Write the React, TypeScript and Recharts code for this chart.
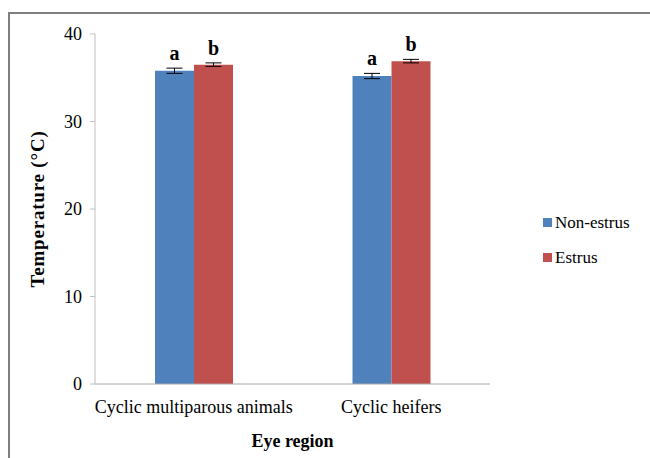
import { BarChart, Bar, XAxis, YAxis, ErrorBar, LabelList } from "recharts";

const categories = ["Cyclic multiparous animals", "Cyclic heifers"];
const nonEstrus = [35.8, 35.2];
const nonEstrusErr = [0.3, 0.3];
const estrus = [36.5, 36.9];
const estrusErr = [0.2, 0.2];
const nonEstrusSig = ["a", "a"];
const estrusSig = ["b", "b"];
const yTicks = [0, 10, 20, 30, 40];
const series = [
  { key: "nonEstrus", name: "Non-estrus", color: "#4f81bd" },
  { key: "estrus", name: "Estrus", color: "#c0504d" },
];

const data = categories.map((name, i) => ({
  name,
  nonEstrus: nonEstrus[i],
  nonEstrusErr: nonEstrusErr[i],
  nonEstrusSig: nonEstrusSig[i],
  estrus: estrus[i],
  estrusErr: estrusErr[i],
  estrusSig: estrusSig[i],
}));

const font = "'Liberation Serif', 'Times New Roman', serif";

const sigLabel = (errKey: string) => (props: any) => {
  const { x, y, width, value, index } = props;
  const err = (data[index] as any)[errKey];
  // push letter above the error bar (8.75 px per unit)
  const top = y - err * 8.75 - 8;
  return (
    <text
      x={x + width / 2}
      y={top}
      textAnchor="middle"
      style={{ fontFamily: font }}
      fontWeight="bold"
      fontSize={20}
      fill="#000"
    >
      {value}
    </text>
  );
};

export default function App() {
  return (
    <div
      style={{
        position: "absolute",
        left: 0,
        top: 0,
        width: 650,
        height: 458,
        background: "#fff",
        overflow: "hidden",
        fontFamily: font,
      }}
    >
      <div
        style={{
          position: "absolute",
          left: 8,
          top: 12,
          width: 660,
          height: 460,
          borderTop: "2px solid #7f7f7f",
          borderLeft: "2px solid #7f7f7f",
        }}
      />
      <div style={{ position: "absolute", left: 0, top: 0 }}>
        <BarChart
          width={650}
          height={458}
          data={data}
          margin={{ top: 34, right: 160, bottom: 44, left: 35 }}
          barGap={0}
          barSize={39}
          style={{ fontFamily: font }}
        >
          <XAxis
            dataKey="name"
            interval={0}
            height={30}
            axisLine={{ stroke: "#a6a6a6" }}
            tickLine={false}
            tick={{ fontSize: 18, fill: "#000", style: { fontFamily: font } }}
            tickMargin={10}
            label={{
              value: "Eye region",
              position: "insideBottom",
              offset: -33,
              style: { fontFamily: font, fontSize: 18, fontWeight: "bold", fill: "#000" },
            }}
          />
          <YAxis
            domain={[0, 40]}
            ticks={yTicks}
            width={60}
            axisLine={{ stroke: "#bfbfbf" }}
            tickLine={{ stroke: "#bfbfbf" }}
            tickSize={5}
            tick={{ fontSize: 18, fill: "#000", style: { fontFamily: font } }}
            tickMargin={8}
            label={{
              value: "Temperature (°C)",
              angle: -90,
              position: "insideLeft",
              offset: 2,
              style: {
                textAnchor: "middle",
                fontFamily: font,
                fontSize: 19,
                letterSpacing: 0.8,
                fontWeight: "bold",
                fill: "#000",
              },
            }}
          />
          <Bar dataKey="nonEstrus" name="Non-estrus" fill="#4f81bd" isAnimationActive={false}>
            <ErrorBar dataKey="nonEstrusErr" width={8} stroke="#000" strokeWidth={1} />
            <LabelList dataKey="nonEstrusSig" content={sigLabel("nonEstrusErr")} />
          </Bar>
          <Bar dataKey="estrus" name="Estrus" fill="#c0504d" isAnimationActive={false}>
            <ErrorBar dataKey="estrusErr" width={8} stroke="#000" strokeWidth={1} />
            <LabelList dataKey="estrusSig" content={sigLabel("estrusErr")} />
          </Bar>
        </BarChart>
      </div>
      <div style={{ position: "absolute", left: 543, top: 205, fontSize: 17, color: "#000" }}>
        {series.map((s) => (
          <div key={s.key} style={{ display: "flex", alignItems: "center", height: 35 }}>
            <span style={{ width: 9, height: 9, background: s.color, marginRight: 3, display: "inline-block" }} />
            <span>{s.name}</span>
          </div>
        ))}
      </div>
    </div>
  );
}
